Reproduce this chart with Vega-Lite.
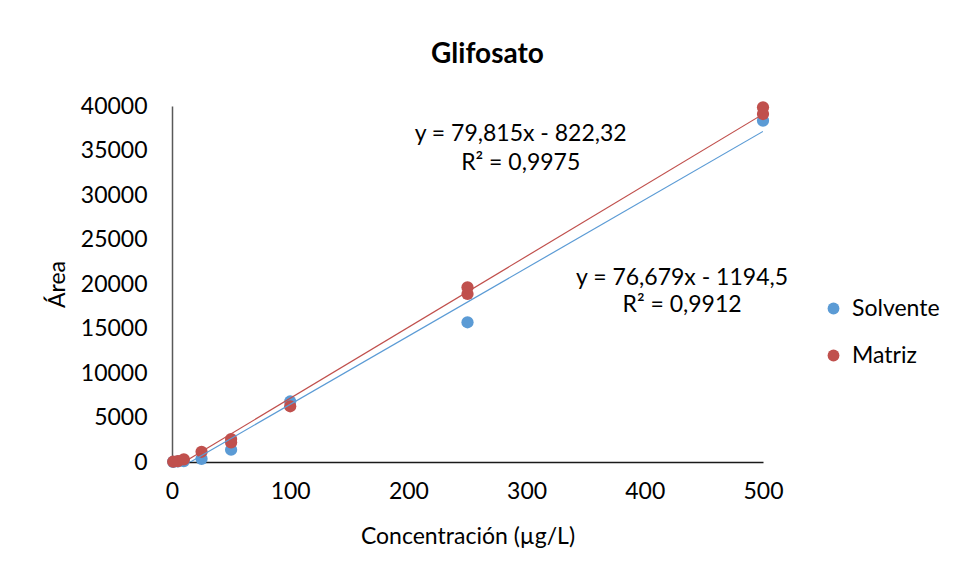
{
  "$schema": "https://vega.github.io/schema/vega-lite/v6.json",
  "width": 591,
  "height": 356,
  "autosize": "none",
  "padding": {"left": 172, "top": 106, "right": 192, "bottom": 119},
  "background": "white",
  "title": {"text": "Glifosato", "font": "Lato", "fontSize": 28, "fontWeight": "bold", "color": "#000000", "anchor": "middle", "dx": 20, "offset": 26},
  "config": {"view": {"stroke": null}, "font": "Lato"},
  "datasets": {
    "points": [
      {"conc": 1, "area": 20, "serie": "Solvente"},
      {"conc": 5, "area": 60, "serie": "Solvente"},
      {"conc": 10, "area": 100, "serie": "Solvente"},
      {"conc": 25, "area": 360, "serie": "Solvente"},
      {"conc": 50, "area": 1380, "serie": "Solvente"},
      {"conc": 100, "area": 6800, "serie": "Solvente"},
      {"conc": 250, "area": 15700, "serie": "Solvente"},
      {"conc": 500, "area": 38350, "serie": "Solvente"},
      {"conc": 1, "area": 30, "serie": "Matriz"},
      {"conc": 5, "area": 100, "serie": "Matriz"},
      {"conc": 10, "area": 300, "serie": "Matriz"},
      {"conc": 25, "area": 1150, "serie": "Matriz"},
      {"conc": 50, "area": 2200, "serie": "Matriz"},
      {"conc": 50, "area": 2580, "serie": "Matriz"},
      {"conc": 100, "area": 6260, "serie": "Matriz"},
      {"conc": 250, "area": 18880, "serie": "Matriz"},
      {"conc": 250, "area": 19630, "serie": "Matriz"},
      {"conc": 500, "area": 39100, "serie": "Matriz"},
      {"conc": 500, "area": 39850, "serie": "Matriz"}
    ],
    "lines": [
      {"conc": 0, "area": -1194.5, "serie": "Solvente"},
      {"conc": 500, "area": 37145, "serie": "Solvente"},
      {"conc": 0, "area": -822.32, "serie": "Matriz"},
      {"conc": 500, "area": 39085, "serie": "Matriz"}
    ],
    "labels": [
      {"conc": 295, "area": 36800, "label": "y = 79,815x - 822,32"},
      {"conc": 295, "area": 33650, "label": "R² = 0,9975"},
      {"conc": 431.5, "area": 20620, "label": "y = 76,679x - 1194,5"},
      {"conc": 431.5, "area": 17590, "label": "R² = 0,9912"}
    ]
  },
  "resolve": {"legend": {"color": "independent"}},
  "layer": [
    {
      "data": {"name": "points"},
      "mark": {"type": "point", "filled": true, "shape": "circle", "size": 150, "opacity": 1},
      "encoding": {
        "x": {
          "field": "conc", "type": "quantitative",
          "scale": {"domain": [0, 500], "nice": false, "zero": true},
          "axis": {
            "title": "Concentración (µg/L)", "values": [0, 100, 200, 300, 400, 500], "format": "d",
            "grid": false, "ticks": false, "tickSize": 0, "labelPadding": 18,
            "labelFont": "Lato", "labelFontSize": 23, "labelColor": "#000000", "labelFlush": false,
            "titleFont": "Lato", "titleFontSize": 23, "titleFontWeight": "normal", "titleColor": "#000000", "titlePadding": 22,
            "domainColor": "#1a1a1a", "domainWidth": 1.5
          }
        },
        "y": {
          "field": "area", "type": "quantitative",
          "scale": {"domain": [0, 40000], "nice": false},
          "axis": {
            "title": "Área", "values": [0, 5000, 10000, 15000, 20000, 25000, 30000, 35000, 40000], "format": "d",
            "grid": false, "ticks": false, "tickSize": 0, "labelPadding": 25,
            "labelFont": "Lato", "labelFontSize": 23, "labelColor": "#000000", "labelFlush": false,
            "titleFont": "Lato", "titleFontSize": 23, "titleFontWeight": "normal", "titleColor": "#000000", "titlePadding": 11,
            "domainColor": "#595959", "domainWidth": 1.5
          }
        },
        "color": {
          "field": "serie", "type": "nominal",
          "scale": {"domain": ["Solvente", "Matriz"], "range": ["#5B9BD5", "#C0504D"]},
          "legend": {
            "title": null, "orient": "none", "legendX": 650, "legendY": 191, "padding": 0,
            "symbolType": "circle", "symbolSize": 140, "symbolStrokeWidth": 0,
            "labelFont": "Lato", "labelFontSize": 23, "labelColor": "#000000", "labelOffset": 7, "rowPadding": 23
          }
        }
      }
    },
    {
      "data": {"name": "lines"},
      "mark": {"type": "line", "strokeWidth": 1.2, "clip": true},
      "encoding": {
        "x": {"field": "conc", "type": "quantitative"},
        "y": {"field": "area", "type": "quantitative"},
        "color": {"field": "serie", "type": "nominal", "legend": null}
      }
    },
    {
      "data": {"name": "labels"},
      "mark": {"type": "text", "font": "Lato", "fontSize": 23, "color": "#000000", "align": "center", "baseline": "middle"},
      "encoding": {
        "x": {"field": "conc", "type": "quantitative"},
        "y": {"field": "area", "type": "quantitative"},
        "text": {"field": "label", "type": "nominal"}
      }
    }
  ]
}
